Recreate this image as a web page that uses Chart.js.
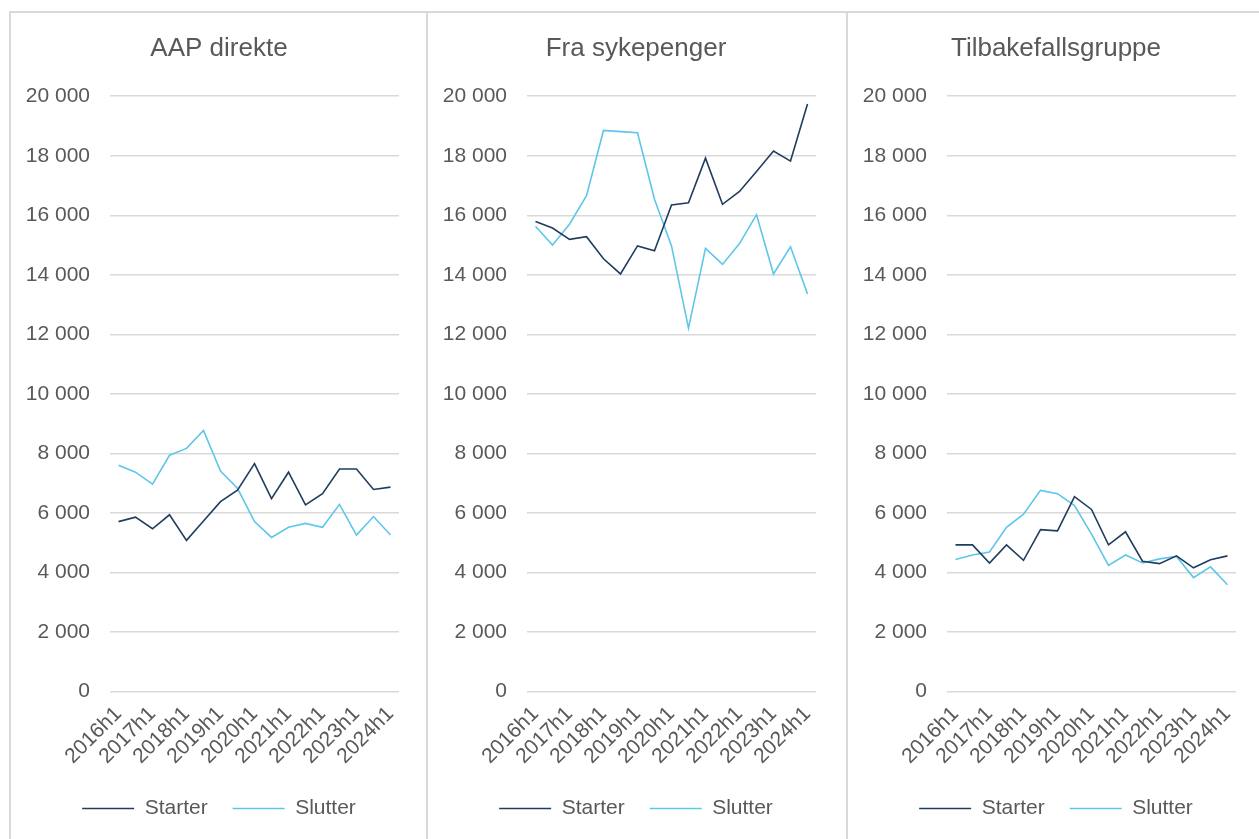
<!DOCTYPE html>
<html>
<head>
<meta charset="utf-8">
<script src="https://cdn.jsdelivr.net/npm/chart.js@4/dist/chart.umd.min.js"></script>
<style>
body{margin:0;background:#fff;width:1259px;height:839px;overflow:hidden;position:relative;font-family:"Liberation Sans",Arial,sans-serif;}
.panel{position:absolute;top:11px;height:840px;border-top:2px solid #d9d9d9;border-left:2px solid #d9d9d9;}
.panel canvas{display:block;}
</style>
</head>
<body>
<div class="panel" style="left:9px;width:415px"><canvas id="c1" width="416" height="826"></canvas></div>
<div class="panel" style="left:426px;width:418px"><canvas id="c2" width="416" height="826"></canvas></div>
<div class="panel" style="left:846px;width:420px"><canvas id="c3" width="416" height="826"></canvas></div>
<script>
const periods = ["2016h1","2016h2","2017h1","2017h2","2018h1","2018h2","2019h1","2019h2","2020h1","2020h2","2021h1","2021h2","2022h1","2022h2","2023h1","2023h2","2024h1"];
const seriesNames = ["Starter","Slutter"];
const panelTitles = ["AAP direkte","Fra sykepenger","Tilbakefallsgruppe"];
const yTicks = [0,2000,4000,6000,8000,10000,12000,14000,16000,18000,20000];

const aapStarter = [5710,5860,5470,5940,5080,5730,6380,6770,7660,6480,7370,6270,6650,7480,7480,6790,6870];
const aapSlutter = [7600,7370,6970,7940,8170,8770,7410,6830,5710,5180,5520,5650,5520,6290,5260,5880,5260];

const sykStarter = [15790,15570,15190,15280,14540,14030,14970,14810,16350,16420,17920,16370,16800,17470,18160,17820,19740];
const sykSlutter = [15630,15000,15700,16660,18850,18810,18770,16540,14970,12210,14890,14350,15050,16020,14030,14940,13360];

const tilStarter = [4930,4930,4320,4930,4410,5440,5400,6550,6120,4930,5370,4380,4300,4560,4160,4430,4560];
const tilSlutter = [4440,4590,4690,5520,5960,6760,6650,6250,5290,4240,4590,4320,4460,4540,3830,4190,3590];

const colors = ["#203d5e","#5ec6ea"];
const textColor = "#595959";
const font = "'Liberation Sans', Arial, sans-serif";

function fmt(v){
    return String(v).replace(/\B(?=(\d{3})+(?!\d))/g," ");
}

function makeChart(id,title,starter,slutter){

    const ctx = document.getElementById(id);

    return new Chart(ctx,{
        type:"line",
        data:{
            labels:periods,
            datasets:[
                {label:seriesNames[0],data:starter,borderColor:colors[0],backgroundColor:colors[0],borderWidth:1.6,pointRadius:0,tension:0},
                {label:seriesNames[1],data:slutter,borderColor:colors[1],backgroundColor:colors[1],borderWidth:1.6,pointRadius:0,tension:0}
            ]
        },
        options:{
            responsive:false,
            animation:false,
            layout:{padding:{left:0,right:0,top:0,bottom:10}},
            plugins:{
                title:{
                    display:true,
                    text:title,
                    color:textColor,
                    font:{family:font,size:26,weight:"normal"},
                    padding:{top:20,bottom:32}
                },
                legend:{
                    position:"bottom",
                    labels:{
                        color:textColor,
                        font:{family:font,size:21},
                        usePointStyle:true,
                        pointStyle:"line",
                        pointStyleWidth:52,
                        padding:25
                    }
                },
                tooltip:{enabled:false}
            },
            scales:{
                x:{
                    offset:true,
                    afterFit:function(s){ s.height = s.height + 2; },
                    grid:{display:false},
                    border:{display:false},
                    ticks:{
                        color:textColor,
                        font:{family:font,size:21},
                        autoSkip:false,
                        minRotation:45,
                        maxRotation:45,
                        padding:2,
                        callback:function(v,i){
                            return i%2===0 ? periods[i] : "";
                        }
                    }
                },
                y:{
                    min:0,
                    max:20000,
                    afterFit:function(s){ s.width = 99; },
                    afterBuildTicks:function(s){ s.ticks = yTicks.map(v=>({value:v})); },
                    grid:{color:"#d9d9d9",lineWidth:1.5,drawTicks:false},
                    border:{display:false},
                    ticks:{
                        color:textColor,
                        font:{family:font,size:21},
                        padding:20,
                        callback:function(v){ return fmt(v); }
                    }
                },
                // empty right axis, only holds the right margin so title/legend stay centred on the panel
                yRight:{
                    position:"right",
                    min:0,
                    max:20000,
                    afterFit:function(s){ s.width = 28; },
                    grid:{display:false},
                    border:{display:false},
                    ticks:{display:false}
                }
            }
        }
    });
}

makeChart("c1",panelTitles[0],aapStarter,aapSlutter);
makeChart("c2",panelTitles[1],sykStarter,sykSlutter);
makeChart("c3",panelTitles[2],tilStarter,tilSlutter);
</script>
</body>
</html>
